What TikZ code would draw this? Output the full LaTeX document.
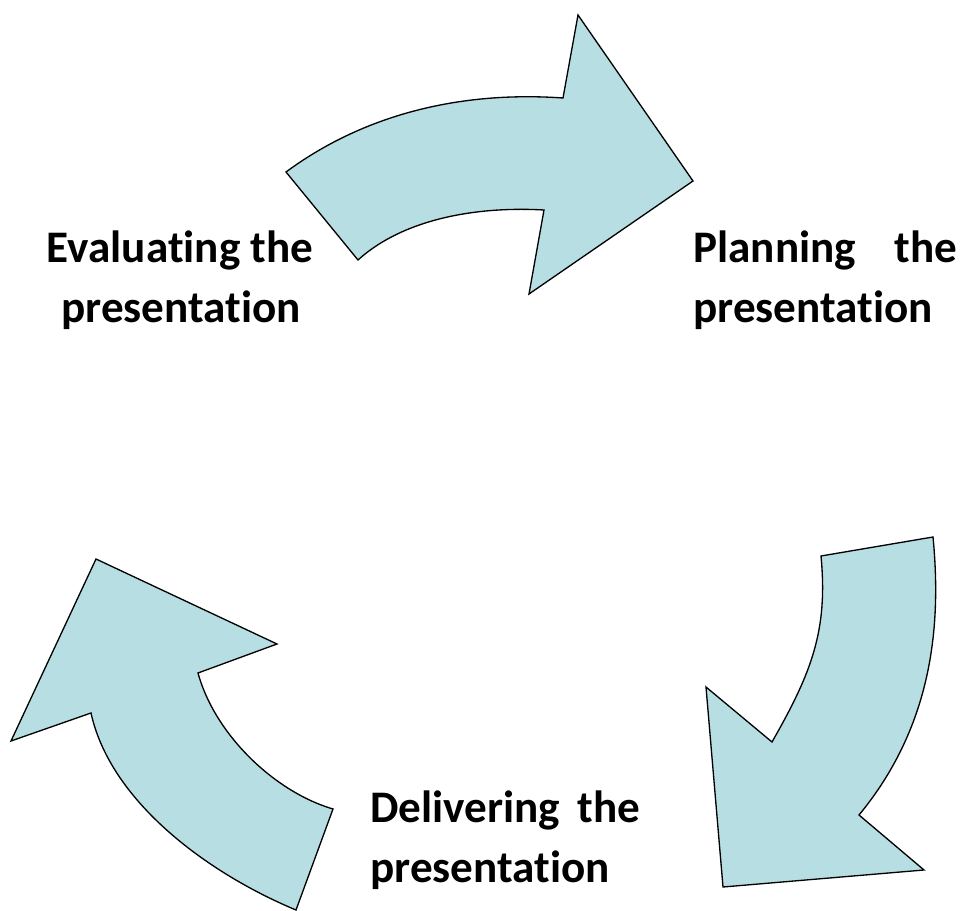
\documentclass[tikz,border=0pt]{standalone}
\usepackage{fontspec}
\setmainfont{Carlito}[Ligatures=NoCommon]
\begin{document}
\begin{tikzpicture}[x=0.02cm,y=-0.02cm,
  cyc/.style={fill=arrowfill,draw=black,line width=0.75pt,line join=miter},
  lbl/.style={inner sep=0pt,font=\fontsize{25.7}{30}\selectfont\bfseries}]
\definecolor{arrowfill}{HTML}{B7DEE3}
\useasboundingbox (0,0) rectangle (967,911);
% top arrow (Evaluating -> Planning)
\path[cyc] (286,172) .. controls (366,113) and (463,91) .. (563,98) -- (578,15) -- (693,181) -- (529,294) -- (544,210)
  .. controls (474,206) and (402,220) .. (358,260) -- cycle;
% right arrow (Planning -> Delivering)
\path[cyc] (933,537) .. controls (941,620) and (935,723) .. (859,815) -- (924,870) -- (723,887) -- (706,687) -- (772,742)
  .. controls (812,672) and (828,630) .. (821,556) -- cycle;
% left arrow (Delivering -> Evaluating)
\path[cyc] (96,559) -- (277,644) -- (198,673) .. controls (215,735) and (275,792) .. (333,809) -- (296,910)
  .. controls (205,872) and (110,800) .. (91,713) -- (11,741) -- cycle;
% labels
\node[lbl,anchor=base] (eval1) at (180,263) {Evaluating the};
\node[lbl,anchor=base] (eval2) at (181,323) {presentation};
\node[lbl,anchor=base west] (plan1) at (693,263) {\makebox[5.28cm][l]{Planning\hfill the}};
\node[lbl,anchor=base west] (plan2) at (693,323) {presentation};
\node[lbl,anchor=base west] (deliv1) at (370,822) {\makebox[5.4cm][l]{Delivering\hfill the}};
\node[lbl,anchor=base west] (deliv2) at (370,882) {presentation};
\end{tikzpicture}
\end{document}
